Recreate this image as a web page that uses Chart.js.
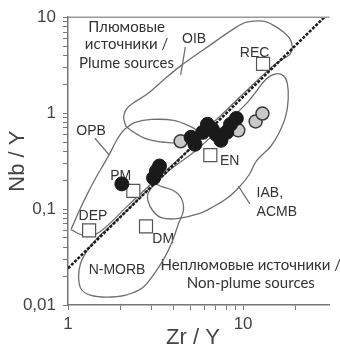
<!DOCTYPE html>
<html>
<head>
<meta charset="utf-8">
<script src="https://cdn.jsdelivr.net/npm/chart.js@4"></script>
<style>
  html, body { margin: 0; padding: 0; background: #fff; }
</style>
</head>
<body>
<canvas id="myChart" width="340" height="347"></canvas>
<script>
// axes
const xTicks = [1, 2, 3, 4, 5, 6, 7, 8, 9, 10, 20];
const xLabels = { 1: "1", 10: "10" };
const yTicks = [0.01, 0.02, 0.03, 0.04, 0.05, 0.06, 0.07, 0.08, 0.09,
  0.1, 0.2, 0.3, 0.4, 0.5, 0.6, 0.7, 0.8, 0.9,
  1, 2, 3, 4, 5, 6, 7, 8, 9, 10];
const yLabels = { 0.01: "0,01", 0.1: "0,1", 1: "1", 10: "10" };

// samples (Zr/Y, Nb/Y)
const blackSamples = [[2.03, 0.183], [3.08, 0.211], [3.20, 0.249], [3.33, 0.281],
  [5.05, 0.560], [5.31, 0.474], [5.88, 0.631], [6.26, 0.764], [6.67, 0.678],
  [7.02, 0.601], [7.47, 0.521], [8.07, 0.631], [8.48, 0.764], [9.15, 0.881]];
const graySamples = [[4.40, 0.509], [9.39, 0.662], [11.8, 0.820], [12.9, 0.99]];
// mantle components: REC, EN, PM, DEP, DM
const components = [[13.0, 3.26], [6.50, 0.365], [2.36, 0.155], [1.32, 0.060], [2.79, 0.066]];

// field outlines
const fieldOIB = [[2.14, 0.728], [2.08, 0.924], [2.22, 1.17], [2.86, 1.60], [3.63, 2.34],
  [4.40, 3.11], [6.03, 4.67], [9.15, 7.88], [10.5, 8.88], [13.1, 9.09], [15.2, 8.07],
  [17.0, 6.99], [18.4, 6.06], [19.1, 5.01], [18.6, 4.14], [16.6, 3.59], [14.8, 3.11],
  [9.39, 1.42], [6.03, 0.678], [4.18, 0.497], [3.54, 0.497], [2.75, 0.547],
  [2.33, 0.646], [2.14, 0.728]];
const fieldOPB = [[1.04, 0.0611], [1.16, 0.0961], [1.29, 0.144], [1.44, 0.211],
  [1.60, 0.294], [1.75, 0.392], [1.88, 0.509], [2.01, 0.616], [2.14, 0.694],
  [2.42, 0.801], [3.01, 0.860], [4.02, 0.840], [4.99, 0.728], [5.52, 0.646],
  [5.73, 0.560], [5.31, 0.463], [4.68, 0.383], [3.20, 0.206], [2.19, 0.108],
  [1.50, 0.0569], [1.24, 0.0530], [1.04, 0.0611]];
const fieldNMORB = [[1.46, 0.0493], [1.29, 0.0371], [1.18, 0.0272], [1.15, 0.0195],
  [1.19, 0.0146], [1.34, 0.0127], [1.66, 0.0121], [2.14, 0.0127], [2.65, 0.0150],
  [3.12, 0.0214], [3.54, 0.0306], [3.92, 0.0448], [4.28, 0.0705], [4.56, 0.0961],
  [4.45, 0.128], [4.02, 0.155], [3.46, 0.170], [3.12, 0.179], [2.19, 0.0984],
  [1.46, 0.0493]];
const fieldIAB = [[3.05, 0.174], [2.86, 0.144], [2.86, 0.122], [3.05, 0.0961],
  [3.41, 0.0813], [4.18, 0.0794], [5.59, 0.0895], [6.59, 0.103], [8.17, 0.131],
  [9.63, 0.174], [10.9, 0.232], [11.9, 0.316], [14.4, 0.452], [16.0, 0.616],
  [17.5, 0.924], [18.1, 1.39], [17.9, 2.03], [17.0, 2.45], [15.4, 2.57],
  [13.6, 2.28], [10.7, 1.32], [7.76, 0.745], [5.31, 0.401], [3.87, 0.261],
  [3.05, 0.174]];

// trend line and label leaders
const trendLine = [[1, 0.0241], [29.1, 10]];
const leaderOPB = [[1.425, 0.547], [1.723, 0.365]];
const leaderOIB = [[4.68, 4.89], [4.40, 2.51]];
const leaderIAB = [[9.39, 0.174], [10.93, 0.1135]];

const ARIAL = "14px 'Liberation Sans', Arial, sans-serif";
const LATO = "15px Lato, 'Open Sans', sans-serif";
const notes = [
  { text: "Плюмовые", x: 2.16, y: 7.88, font: LATO },
  { text: "источники /", x: 2.16, y: 5.26, font: LATO },
  { text: "Plume sources", x: 2.16, y: 3.34, font: LATO },
  { text: "Неплюмовые источники /", x: 11.07, y: 0.0259, font: LATO },
  { text: "Non-plume sources", x: 11.07, y: 0.0169, font: LATO },
  { text: "OIB", x: 5.25, y: 5.92, font: ARIAL },
  { text: "REC", x: 11.64, y: 4.24, font: ARIAL },
  { text: "OPB", x: 1.355, y: 0.646, font: ARIAL },
  { text: "EN", x: 8.38, y: 0.316, font: ARIAL },
  { text: "PM", x: 2.0, y: 0.221, font: ARIAL },
  { text: "DEP", x: 1.389, y: 0.0853, font: ARIAL },
  { text: "DM", x: 3.5, y: 0.0482, font: ARIAL },
  { text: "N-MORB", x: 1.906, y: 0.023, font: ARIAL },
  { text: "IAB,", x: 11.94, y: 0.1475, font: ARIAL, align: "left" },
  { text: "ACMB", x: 11.94, y: 0.0938, font: ARIAL, align: "left" },
];

const pts = (arr) => arr.map((p) => ({ x: p[0], y: p[1] }));

const outline = (data) => ({
  data: pts(data),
  showLine: true,
  pointRadius: 0,
  borderColor: "#6f6f6f",
  borderWidth: 1.3,
  tension: 0.35,
  order: 4,
});

const overlay = {
  id: "overlay",
  beforeDatasetsDraw(chart) {
    const { ctx, scales } = chart;
    ctx.save();
    ctx.fillStyle = "#333";
    ctx.textBaseline = "middle";
    notes.forEach((n) => {
      ctx.font = n.font;
      ctx.textAlign = n.align || "center";
      ctx.fillText(n.text, scales.x.getPixelForValue(n.x), scales.y.getPixelForValue(n.y));
    });
    ctx.restore();
  },
  afterDraw(chart) {
    const { ctx, chartArea } = chart;
    ctx.save();
    ctx.strokeStyle = "#999";
    ctx.lineWidth = 1.5;
    ctx.beginPath();
    ctx.moveTo(chartArea.left, chartArea.top);
    ctx.lineTo(chartArea.right, chartArea.top);
    ctx.stroke();
    ctx.fillStyle = "#444";
    ctx.font = "22px 'Liberation Sans', Arial, sans-serif";
    ctx.textAlign = "center";
    ctx.textBaseline = "middle";
    ctx.fillText("Zr / Y", 193, 338);
    ctx.translate(18, (chartArea.top + chartArea.bottom) / 2);
    ctx.rotate(-Math.PI / 2);
    ctx.fillText("Nb / Y", 0, 0);
    ctx.restore();
  },
};

new Chart("myChart", {
  type: "scatter",
  data: {
    datasets: [
      {
        data: pts(blackSamples),
        pointRadius: 7,
        backgroundColor: "#1a1a1a",
        borderColor: "#1a1a1a",
        borderWidth: 1,
        order: 0,
      },
      {
        data: pts(graySamples),
        pointRadius: 6.5,
        backgroundColor: "#c9c9c9",
        borderColor: "#3a3a3a",
        borderWidth: 1.5,
        order: 0,
      },
      {
        data: pts(components),
        pointStyle: "rect",
        pointRadius: 9.2,
        backgroundColor: "#fff",
        borderColor: "#555",
        borderWidth: 1.2,
        order: 1,
      },
      {
        data: pts(trendLine),
        showLine: true,
        pointRadius: 0,
        borderColor: "#1a1a1a",
        borderWidth: 2.5,
        borderDash: [3, 1.5],
        order: 2,
      },
      outline(fieldOIB),
      outline(fieldOPB),
      outline(fieldNMORB),
      outline(fieldIAB),
      { ...outline(leaderOPB), tension: 0 },
      { ...outline(leaderOIB), tension: 0 },
      { ...outline(leaderIAB), tension: 0 },
    ],
  },
  options: {
    responsive: false,
    animation: false,
    layout: { padding: { top: 15, right: 0, left: 0, bottom: 0 } },
    plugins: { legend: { display: false }, tooltip: { enabled: false } },
    scales: {
      x: {
        type: "logarithmic",
        min: 1,
        max: 31.2,
        afterBuildTicks: (scale) => { scale.ticks = xTicks.map((v) => ({ value: v })); },
        afterFit: (scale) => { scale.height = 42; },
        grid: { drawOnChartArea: false, tickLength: 5, color: "#777" },
        border: { color: "#777", width: 1.5 },
        ticks: {
          autoSkip: false,
          maxRotation: 0,
          padding: 4,
          color: "#444",
          font: { family: "'Liberation Sans', Arial", size: 17 },
          callback: (v) => xLabels[v] || "",
        },
      },
      y: {
        type: "logarithmic",
        min: 0.01,
        max: 10,
        afterBuildTicks: (scale) => { scale.ticks = yTicks.map((v) => ({ value: v })); },
        afterFit: (scale) => { scale.width = 68; },
        grid: { drawOnChartArea: false, tickLength: 5, color: "#777" },
        border: { color: "#777", width: 1.5 },
        ticks: {
          autoSkip: false,
          padding: 7,
          color: "#444",
          font: { family: "'Liberation Sans', Arial", size: 17 },
          callback: (v) => yLabels[v] || "",
        },
      },
    },
  },
  plugins: [overlay],
});
</script>
</body>
</html>
